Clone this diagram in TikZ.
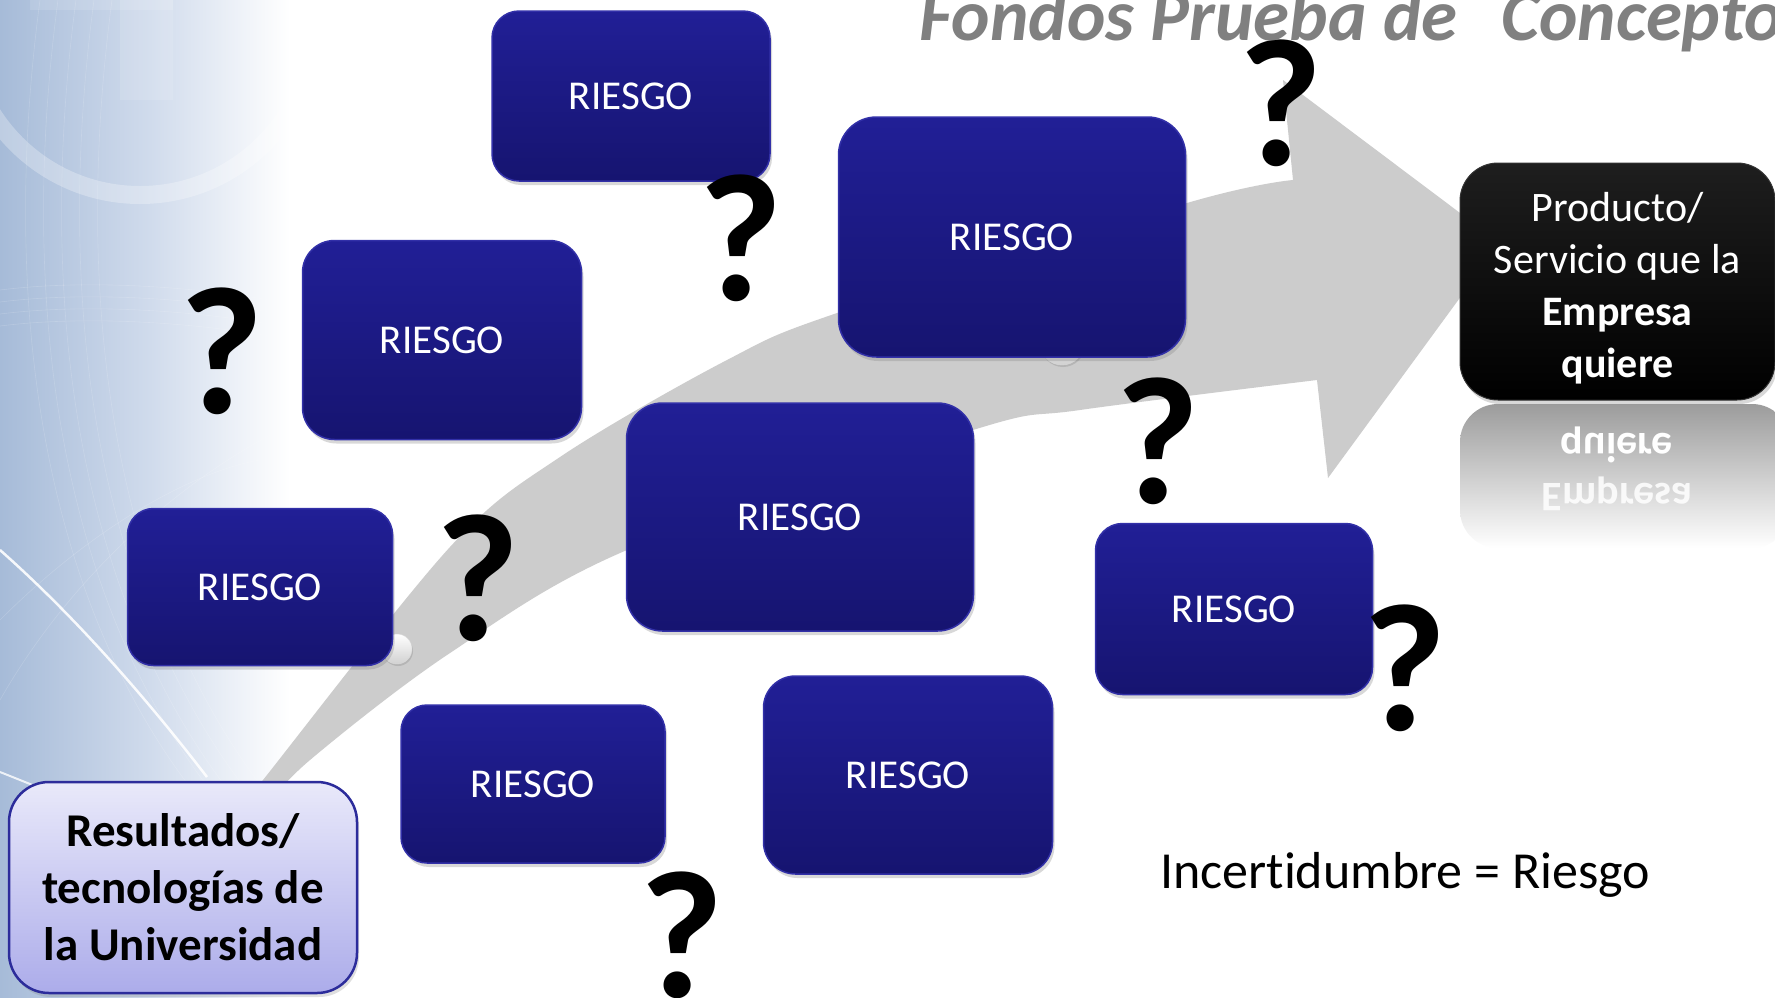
\documentclass[tikz,border=0pt]{standalone}
\usepackage{fontspec}
\setmainfont{Carlito}[Ligatures={NoCommon}]
\usetikzlibrary{shadows}
\definecolor{boxtop}{RGB}{33,31,150}
\definecolor{boxbot}{RGB}{22,20,112}
\definecolor{boxline}{RGB}{50,48,168}
\definecolor{arrowgray}{RGB}{204,204,204}
\definecolor{bgL}{RGB}{166,187,216}
\definecolor{bgM}{RGB}{208,219,236}
\definecolor{resTop}{RGB}{233,233,250}
\definecolor{resBot}{RGB}{172,172,234}
\definecolor{resLine}{RGB}{44,44,155}
\definecolor{titlegray}{RGB}{128,128,128}
\definecolor{reflTop}{RGB}{156,156,156}
\definecolor{blackTop}{RGB}{30,30,30}
\begin{document}
\begin{tikzpicture}[x=1pt,y=-1pt,
  riskbox/.style={rectangle, draw=boxline, line width=1.5pt, top color=boxtop, bottom color=boxbot,
    text=white, font=\fontsize{41}{49}\selectfont,
    drop shadow={shadow xshift=2pt, shadow yshift=-4pt, opacity=0.3}},
  qmark/.style={anchor=base, inner sep=0pt, font=\fontsize{182}{182}\selectfont\bfseries},
  dotball/.style={circle, inner sep=0pt, top color=white, bottom color=black!18, draw=black!15,
    drop shadow={shadow xshift=1pt, shadow yshift=-2pt, opacity=0.3}},
  bgline/.style={white, opacity=0.16, line width=0.6pt},
]
\useasboundingbox (0,0) rectangle (1775,997);
\clip (0,0) rectangle (1775,997);

% background
\fill[white] (0,0) rectangle (1775,997);
\shade[left color=bgL, right color=bgM] (0,0) rectangle (150,997);
\shade[left color=bgM, right color=white] (150,0) rectangle (290,997);
\draw[white, opacity=0.28, line width=18pt] (140,20) circle (175);
\fill[white, opacity=0.12] (30,0) rectangle (173,10);
\fill[white, opacity=0.12] (120,0) rectangle (173,100);
\foreach \a in {0,18,36,54,72}{
  \draw[bgline] (40+\a,0) .. controls (0+\a,300) and (40+\a,600) .. (200+\a,800);
}
\foreach \b in {0,12,24,36}{
  \draw[bgline] (0,290+\b) .. controls (80,280+\b) and (180,285+\b) .. (270,300+\b);
}
\draw[bgline] (0,700) .. controls (80,560) and (200,470) .. (280,430);
\draw[bgline] (0,620) .. controls (100,520) and (200,470) .. (260,460);
\draw[white, line width=2.5pt, opacity=0.9] (0,550) .. controls (70,612) and (140,690) .. (207,777);
\draw[white, line width=2pt, opacity=0.8] (0,772) -- (45,790);

% big curved arrow
\fill[arrowgray] plot[smooth, tension=0.55] coordinates {(236,815) (263,780) (450,547) (560,457) (727,360) (840,312) (1187,203) (1293,180)}
  -- (1283,80) -- (1500,243) -- (1328,478) -- (1317,380)
  -- plot[smooth, tension=0.55] coordinates {(1317,380) (1080,410) (973,430) (627,550) (450,653) (310,760) (258,815)} -- cycle;

% small dots on the arrow
\node[dotball, minimum size=30pt] (dot1) at (397,649) {};
\node[dotball, minimum size=44pt] (dot2) at (1062,343) {};

% risk boxes
\node[riskbox, minimum width=278pt, minimum height=170pt, rounded corners=27pt] (r1) at (631,96) {RIESGO};
\node[riskbox, minimum width=347pt, minimum height=240pt, rounded corners=38pt] (r2) at (1012,237) {RIESGO};
\node[riskbox, minimum width=279pt, minimum height=199pt, rounded corners=32pt] (r3) at (442,340) {RIESGO};
\node[riskbox, minimum width=347pt, minimum height=228pt, rounded corners=36pt] (r4) at (800,517) {RIESGO};
\node[riskbox, minimum width=265pt, minimum height=157pt, rounded corners=26pt] (r5) at (260,587) {RIESGO};
\node[riskbox, minimum width=277pt, minimum height=171pt, rounded corners=27pt] (r6) at (1234,609) {RIESGO};
\node[riskbox, minimum width=264pt, minimum height=158pt, rounded corners=26pt] (r7) at (533,784) {RIESGO};
\node[riskbox, minimum width=289pt, minimum height=198pt, rounded corners=32pt] (r8) at (908,775) {RIESGO};

% reflection of the product box
\shade[top color=reflTop, bottom color=white, rounded corners=38pt] (1460,404) rectangle (1790,548);
\node[anchor=base, inner sep=0pt, yscale=-1, text=white, font=\fontsize{42}{52}\selectfont\bfseries] (reflq) at (1617,433) {quiere};
\node[anchor=base, inner sep=0pt, yscale=-1, text=white, opacity=0.85, font=\fontsize{42}{52}\selectfont\bfseries] (refle) at (1617,483) {Empresa};

% product box
\node[rectangle, rounded corners=38pt, top color=blackTop, bottom color=black, draw=black!80, line width=1pt,
  minimum width=315pt, minimum height=237pt,
  drop shadow={shadow xshift=2pt, shadow yshift=-4pt, opacity=0.3}] (prod) at (1617.5,281.5) {};
\node[text=white, align=center, inner sep=0pt, font=\fontsize{42}{52}\selectfont] (prodtext) at (1617.5,288.5)
  {Producto/\\Servicio que la\\\textbf{Empresa}\\\textbf{quiere}};

% university box
\node[rectangle, rounded corners=40pt, top color=resTop, bottom color=resBot, draw=resLine, line width=2.5pt,
  minimum width=348pt, minimum height=211pt, text=black, align=center,
  font=\fontsize{47}{57}\selectfont\bfseries,
  drop shadow={shadow xshift=2pt, shadow yshift=-4pt, opacity=0.25}] (res) at (183,887.5)
  {Resultados/\\tecnologías de\\la Universidad};

% question marks
\node[qmark] (q1) at (1281,165) {?};
\node[qmark] (q2) at (741,300) {?};
\node[qmark] (q3) at (222,413) {?};
\node[qmark] (q4) at (478,640) {?};
\node[qmark] (q5) at (1158,503) {?};
\node[qmark] (q6) at (1405,730) {?};
\node[qmark] (q7) at (682,997) {?};

% texts
\node[anchor=base west, inner sep=0pt, text=titlegray, font=\fontsize{73}{80}\selectfont\bfseries\itshape] (title) at (919,40) {Fondos Prueba de\hspace{44pt}Concepto};
\node[anchor=base west, inner sep=0pt, font=\fontsize{52}{60}\selectfont] (eq) at (1160,888) {Incertidumbre = Riesgo};
\end{tikzpicture}
\end{document}
